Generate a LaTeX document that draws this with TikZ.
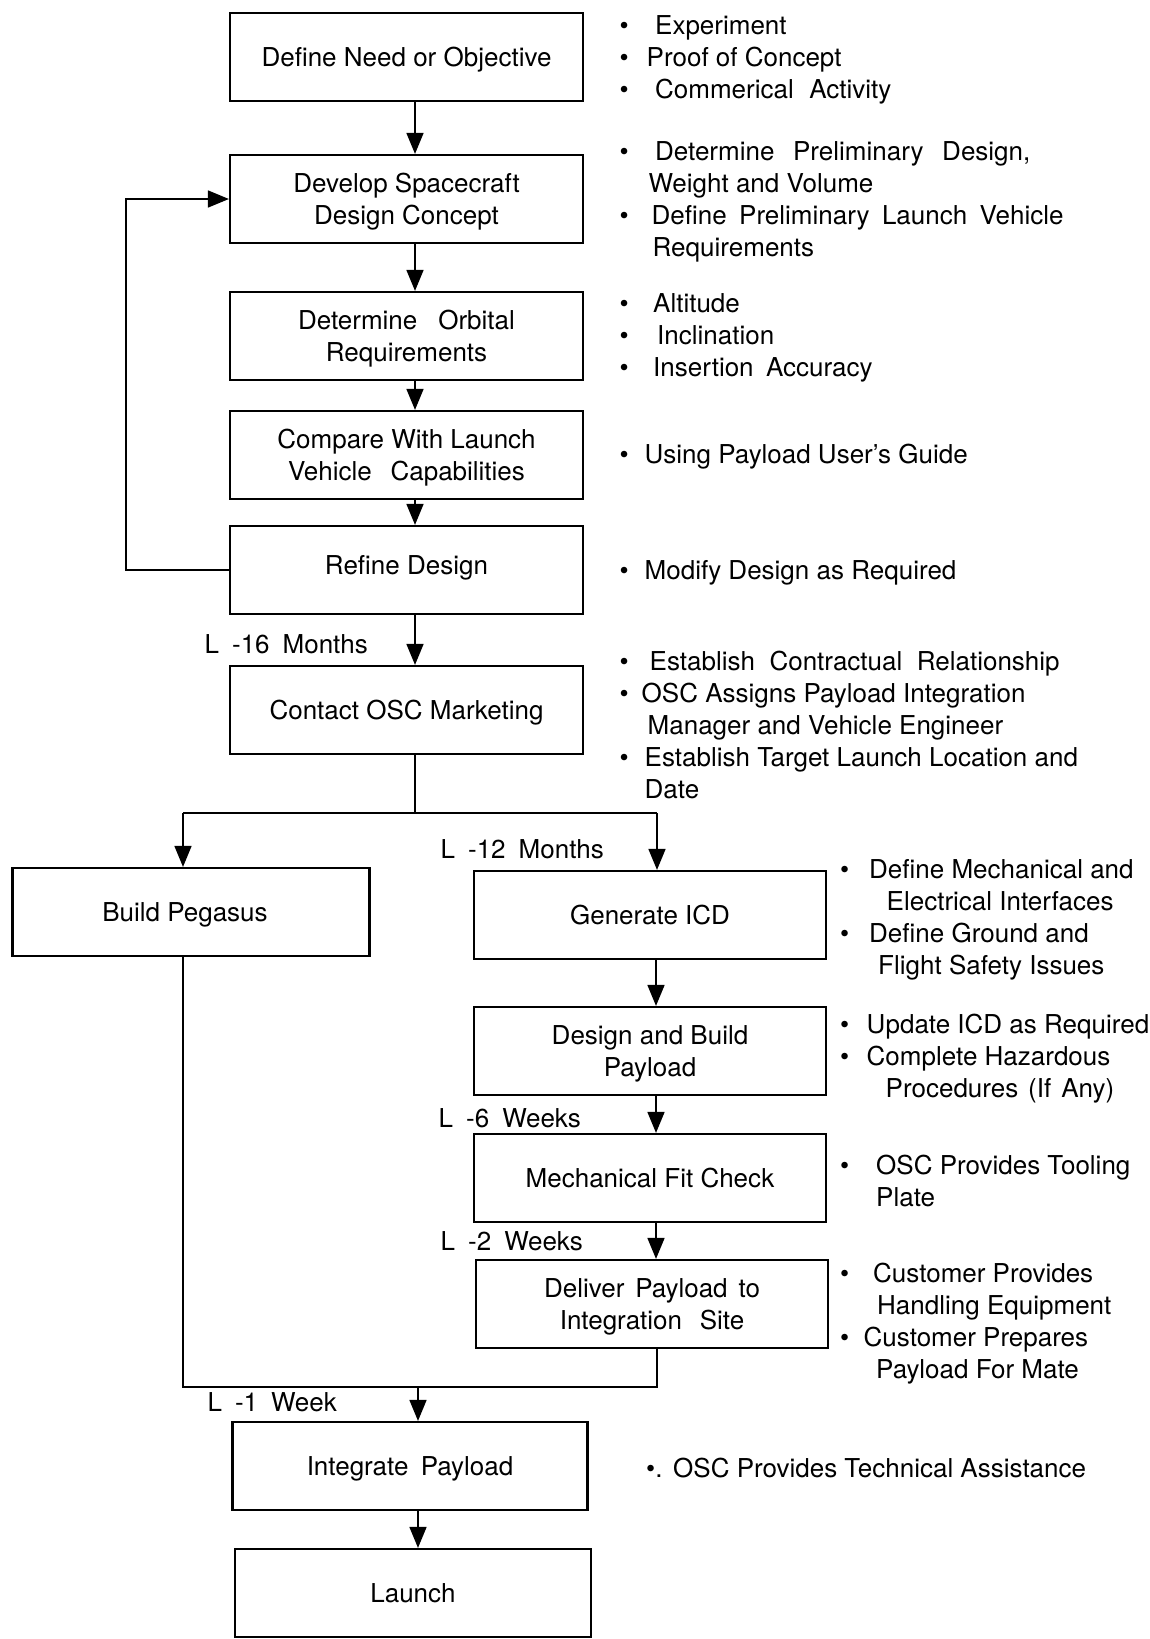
\documentclass[tikz,border=0pt]{standalone}
\usepackage{fontspec}
\setmainfont{TeX Gyre Heros}
\usetikzlibrary{arrows.meta}

\newcommand{\bul}[1]{\makebox[#1][l]{\textbullet}}
\newcommand{\ind}[1]{\makebox[#1]{}}
\newcommand{\wsp}[2]{{\spaceskip=#1\relax#2}}

\tikzset{
  stepbox/.style={draw,line width=2.2pt,minimum width=353pt,minimum height=88pt,align=center,inner sep=0pt,text depth=0pt},
  notes/.style={anchor=north west,align=left,inner sep=0pt},
  tlabel/.style={anchor=east,inner sep=0pt},
  link/.style={line width=1.6pt},
  flow/.style={link,-{Triangle[width=17pt,length=21pt]}}
}

\begin{document}
\begin{tikzpicture}[x=1pt,y=1pt,font=\fontsize{26}{32}\selectfont]
\useasboundingbox (0,0) rectangle (1149,-1639);

% main column
\node[stepbox] (def) at (406.5,-57) {Define Need or Objective};
\node[stepbox] (dev) at (406.5,-199) {Develop Spacecraft\\Design Concept};
\node[stepbox] (orb) at (406.5,-336) {\wsp{21pt}{Determine Orbital}\\Requirements};
\node[stepbox] (cmp) at (406.5,-455) {Compare With Launch\\\wsp{18.7pt}{Vehicle Capabilities}};
\node[stepbox] (ref) at (406.5,-570) {\raisebox{10pt}{Refine Design}};
\node[stepbox] (osc) at (406.5,-710) {Contact OSC Marketing};

% two branches
\node[stepbox,minimum width=357pt] (peg) at (191,-912) {Build Pegasus\makebox[12pt]{}};
\node[stepbox,minimum width=352pt] (icd) at (650,-915) {Generate ICD};
\node[stepbox,minimum width=352pt] (dbp) at (650,-1051) {Design and Build\\Payload};
\node[stepbox,minimum width=352pt] (fit) at (650,-1178) {Mechanical Fit Check};
\node[stepbox,minimum width=352pt] (dlv) at (652,-1304) {\wsp{10.9pt}{Deliver Payload to}\\\wsp{17.7pt}{Integration Site}};

\node[stepbox,minimum width=355pt] (intg) at (410,-1466) {\wsp{12.4pt}{Integrate Payload}};
\node[stepbox,minimum width=356pt] (lau) at (413,-1593) {Launch};

\coordinate (spine) at (415,0);
\coordinate (rspine) at (656,0);
\coordinate (split) at (415,-813);
\coordinate (lft) at (183,-813);
\coordinate (rgt) at (657,-813);
\coordinate (join) at (418,-1387);

% connectors
\draw[flow] (def.south -| spine) -- (dev.north -| spine);
\draw[flow] (dev.south -| spine) -- (orb.north -| spine);
\draw[flow] (orb.south -| spine) -- (cmp.north -| spine);
\draw[flow] (cmp.south -| spine) -- (ref.north -| spine);
\draw[flow] (ref.south -| spine) -- (osc.north -| spine);
\draw[flow] (ref.west) -- ++(-103,0) |- (dev.west);
\draw[link] (osc.south -| spine) -- (split);
\draw[link] (lft) -- (rgt);
\draw[flow] (lft) -- (lft |- peg.north);
\draw[flow] (rgt) -- (rgt |- icd.north);
\draw[flow] (icd.south -| rspine) -- (dbp.north -| rspine);
\draw[flow] (dbp.south -| rspine) -- (fit.north -| rspine);
\draw[flow] (fit.south -| rspine) -- (dlv.north -| rspine);
\draw[link] (peg.south -| lft) -- (lft |- join) -- (rgt |- join) -- (dlv.south -| rgt);
\draw[flow] (join) -- (intg.north -| join);
\draw[flow] (intg.south -| join) -- (lau.north -| join);

% launch times
\node[tlabel] (m16) at (368,-644) {\wsp{13pt}{L -16 Months}};
\node[tlabel] (m12) at (604,-849) {\wsp{13pt}{L -12 Months}};
\node[tlabel] (w6) at (581,-1118) {\wsp{13pt}{L -6 Weeks}};
\node[tlabel] (w2) at (583,-1241) {\wsp{13pt}{L -2 Weeks}};
\node[tlabel] (w1) at (337,-1402) {\wsp{13pt}{L -1 Week}};

% notes
\node[notes] (n1) at (619.5,-15.6) {\bul{35.5pt}Experiment\\ \bul{27pt}Proof of Concept\\ \bul{35.5pt}\wsp{15.5pt}{Commerical Activity}};
\node[notes] (n2) at (619.5,-141) {\bul{35.5pt}\wsp{18.7pt}{Determine Preliminary Design,}\\ \ind{29pt}Weight and Volume\\ \bul{32pt}\wsp{12.4pt}{Define Preliminary Launch Vehicle}\\ \ind{33pt}Requirements};
\node[notes] (n3) at (619.5,-293.6) {\bul{33.5pt}Altitude\\ \bul{37.5pt}Inclination\\ \bul{33.5pt}\wsp{12.4pt}{Insertion Accuracy}};
\node[notes] (n4) at (619.5,-444.3) {\bul{25pt}Using Payload User's Guide};
\node[notes] (n5) at (619.5,-560.6) {\bul{25pt}Modify Design as Required};
\node[notes] (n6) at (619.5,-650.6) {\bul{30pt}\wsp{14.5pt}{Establish Contractual Relationship}\\ \bul{22pt}OSC Assigns Payload Integration\\ \ind{28pt}Manager and Vehicle Engineer\\ \bul{25pt}Establish Target Launch Location and\\ \ind{25pt}Date};
\node[notes] (n7) at (840,-859.6) {\bul{29pt}Define Mechanical and\\ \ind{46.5pt}Electrical Interfaces\\ \bul{29pt}Define Ground and\\ \ind{38pt}Flight Safety Issues};
\node[notes] (n8) at (840,-1014) {\bul{26.5pt}Update ICD as Required\\ \bul{26.5pt}Complete Hazardous\\ \ind{45.5pt}\wsp{10pt}{Procedures (If Any)}};
\node[notes] (n9) at (840,-1155.3) {\bul{36pt}OSC Provides Tooling\\ \ind{36pt}Plate};
\node[notes] (n10) at (840,-1262.6) {\bul{33pt}Customer Provides\\ \ind{37pt}Handling Equipment\\ \bul{23.5pt}Customer Prepares\\ \ind{36pt}Payload For Mate};
\node[notes] (n11) at (646,-1457.6) {\makebox[27pt][l]{\textbullet.}OSC Provides Technical Assistance};
\end{tikzpicture}
\end{document}
